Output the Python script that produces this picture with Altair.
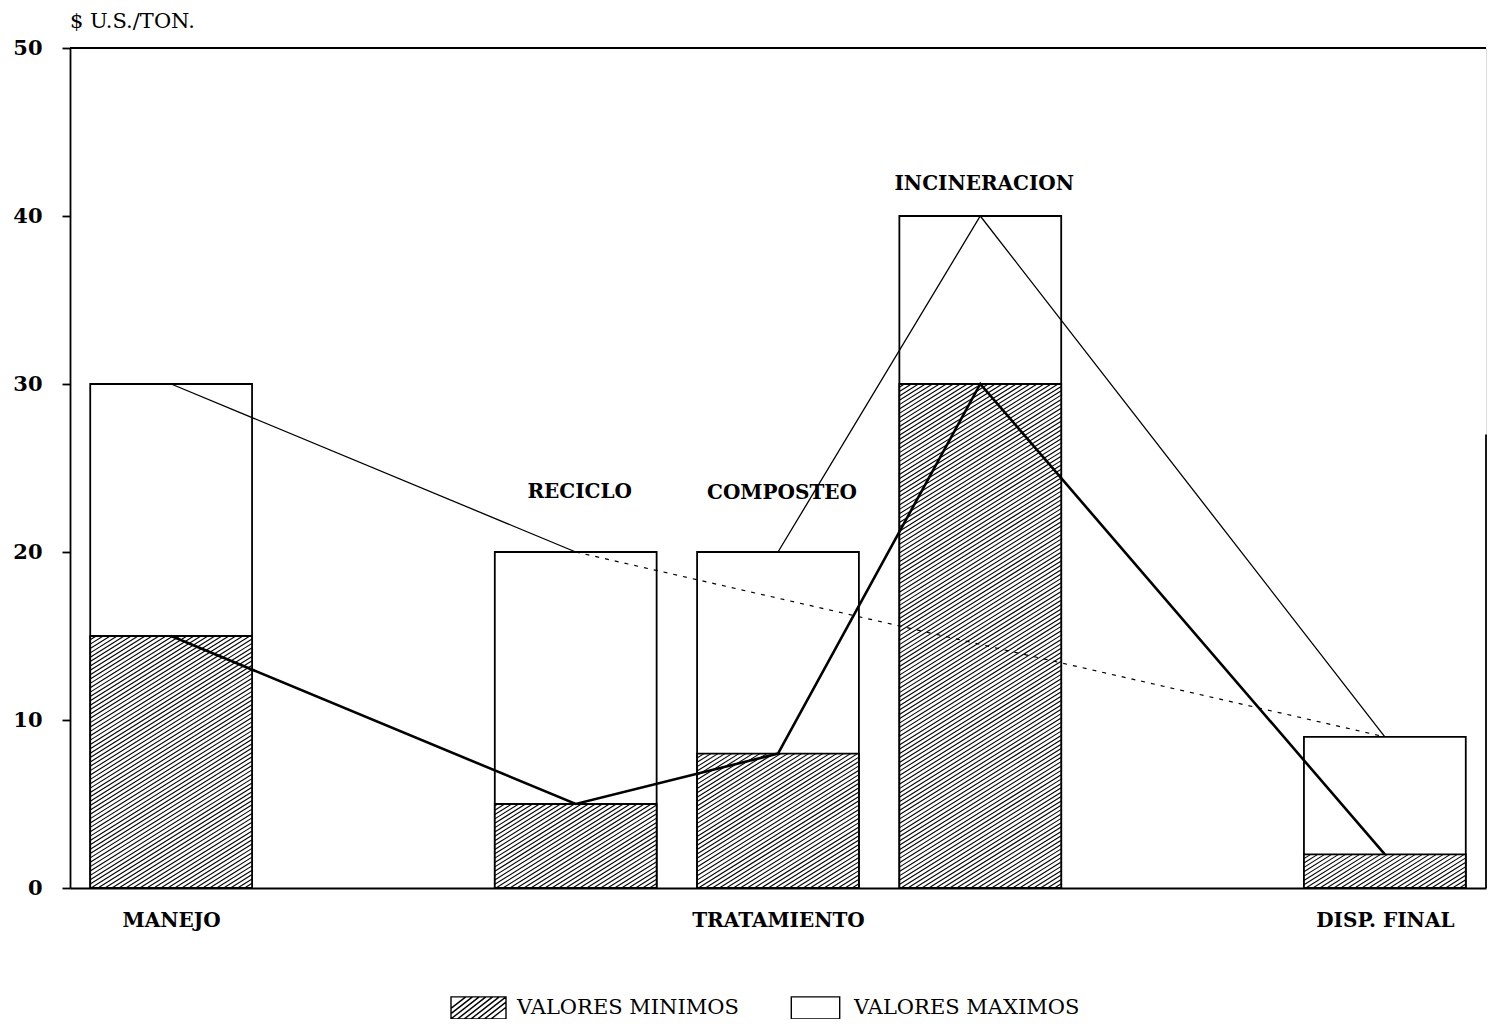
import altair as alt
import numpy as np
import pandas as pd

# ---------------- data ----------------
categories = ["MANEJO", "RECICLO", "COMPOSTEO", "INCINERACION", "DISP. FINAL"]
slots = [0, 2, 3, 4, 6]
min_values = [15, 5, 8, 30, 2]
max_values = [30, 20, 20, 40, 9]

group_labels = ["MANEJO", "TRATAMIENTO", "DISP. FINAL"]
group_slots = [0, 3, 6]

top_labels = ["RECICLO", "COMPOSTEO", "INCINERACION"]
top_label_slots = [2, 3, 4]
top_label_values = [23.6, 23.5, 41.9]

legend_entries = ["VALORES MINIMOS", "VALORES MAXIMOS"]
y_ticks = [0, 10, 20, 30, 40, 50]

# connections between the maximum values (indexes into the lists above)
max_path_a = [0, 1]        # solid
max_path_b = [1, 4]        # dotted
max_path_c = [2, 3, 4]     # solid

right_frame_top = 27

# ---------------- layout / style ----------------
W, H = 1416, 840
X_DOM = [-0.5, 6.5]
Y_DOM = [0, 50]
BAR_HALF = 0.4
FONT = "DejaVu Serif"
HATCH_ANGLE = 32
HATCH_SPACING = 3.7

px_x = W / (X_DOM[1] - X_DOM[0])
px_y = H / (Y_DOM[1] - Y_DOM[0])


def hatch_segments(x0, x1, y0, y1, angle_deg, spacing):
    t = np.tan(np.radians(angle_deg))
    dc = spacing / np.cos(np.radians(angle_deg))
    cmin = y0 - t * x1
    cmax = y1 - t * x0
    segs = []
    for k in np.arange(np.ceil(cmin / dc), np.floor(cmax / dc) + 1):
        c = k * dc
        xa = max(x0, (y0 - c) / t)
        xb = min(x1, (y1 - c) / t)
        if xb - xa > 0.3:
            segs.append((xa, t * xa + c, xb, t * xb + c))
    return segs


bars = pd.DataFrame({
    "cat": categories,
    "slot": slots,
    "vmin": min_values,
    "vmax": max_values,
})
bars["x0"] = bars["slot"] - BAR_HALF
bars["x1"] = bars["slot"] + BAR_HALF
bars["base"] = 0

# hatching of the minimum bars (in data units)
rows = []
for _, r in bars.iterrows():
    x0p = (r["x0"] - X_DOM[0]) * px_x
    x1p = (r["x1"] - X_DOM[0]) * px_x
    y0p = 0.0
    y1p = r["vmin"] * px_y
    for xa, ya, xb, yb in hatch_segments(x0p, x1p, y0p, y1p, HATCH_ANGLE, HATCH_SPACING):
        rows.append({
            "hx": xa / px_x + X_DOM[0], "hy": ya / px_y,
            "hx2": xb / px_x + X_DOM[0], "hy2": yb / px_y,
        })
hatch = pd.DataFrame(rows)

min_line = pd.DataFrame({"slot": slots, "v": min_values, "o": range(len(slots))})


def path_df(idx):
    return pd.DataFrame({"slot": [slots[i] for i in idx],
                         "v": [max_values[i] for i in idx],
                         "o": list(range(len(idx)))})


line_a = path_df(max_path_a)
line_b = path_df(max_path_b)
line_c = path_df(max_path_c)

top_df = pd.DataFrame({"t": top_labels, "slot": top_label_slots, "v": top_label_values})

legend_df = pd.DataFrame({"entry": legend_entries,
                          "slot": [slots[0], slots[0]],
                          "v": [min_values[0], max_values[0]]})

# legend swatch paths (unit space [-1,1])
sw_h = 0.4
rect_path = f"M-1,{-sw_h}L1,{-sw_h}L1,{sw_h}L-1,{sw_h}Z"
open_path = f"M-0.88,{-sw_h}L0.88,{-sw_h}L0.88,{sw_h}L-0.88,{sw_h}Z"
hp = []
for xa, ya, xb, yb in hatch_segments(-1, 1, -sw_h, sw_h, 38, 0.15):
    hp.append(f"M{xa:.3f},{-ya:.3f}L{xb:.3f},{-yb:.3f}")
hatch_path = rect_path + "".join(hp)

label_expr = "".join(
    f"datum.value == {s} ? '{l}' : " for s, l in zip(group_slots, group_labels)
) + "''"

xscale = alt.Scale(domain=X_DOM, nice=False, zero=False)
yscale = alt.Scale(domain=Y_DOM, nice=False, zero=False)

x_axis = alt.Axis(values=group_slots, labelExpr=label_expr, ticks=False, grid=False,
                  domainColor="black", domainWidth=1.8, labelFont=FONT,
                  labelFontWeight="bold", labelFontSize=20, labelColor="black",
                  labelPadding=22, title=None, labelFlush=False, labelOverlap=False)
y_axis = alt.Axis(values=y_ticks, tickSize=8, tickWidth=1.8, tickColor="black",
                  domainColor="black", domainWidth=1.8, grid=False,
                  labelFont=FONT, labelFontWeight="bold", labelFontSize=21,
                  labelColor="black", labelPadding=20, title=None)

max_rects = alt.Chart(bars).mark_rect(fill="white", stroke="black", strokeWidth=1.8).encode(
    x=alt.X("x0:Q", scale=xscale, axis=x_axis),
    x2="x1:Q",
    y=alt.Y("vmax:Q", scale=yscale, axis=y_axis),
    y2="base:Q",
)
min_rects = alt.Chart(bars).mark_rect(fill="white", stroke="black", strokeWidth=1.8).encode(
    x=alt.X("x0:Q", scale=xscale), x2="x1:Q",
    y=alt.Y("vmin:Q", scale=yscale), y2="base:Q",
)
hatch_rules = alt.Chart(hatch).mark_rule(color="black", strokeWidth=1.1).encode(
    x=alt.X("hx:Q", scale=xscale), x2="hx2:Q",
    y=alt.Y("hy:Q", scale=yscale), y2="hy2:Q",
)


def line_layer(df, width, dash=None):
    kw = dict(color="black", strokeWidth=width)
    if dash:
        kw["strokeDash"] = dash
    return alt.Chart(df).mark_line(**kw).encode(
        x=alt.X("slot:Q", scale=xscale),
        y=alt.Y("v:Q", scale=yscale),
        order="o:Q",
    )


lines = [
    line_layer(line_a, 1.3),
    line_layer(line_b, 1.2, [4, 6]),
    line_layer(line_c, 1.3),
    line_layer(min_line, 2.6),
]

top_text = alt.Chart(top_df).mark_text(font=FONT, fontWeight="bold", fontSize=20,
                                       color="black", dx=4).encode(
    x=alt.X("slot:Q", scale=xscale), y=alt.Y("v:Q", scale=yscale), text="t:N")

frame_df = pd.DataFrame({"a": [0]})
top_frame = alt.Chart(frame_df).mark_rule(color="black", strokeWidth=1.8).encode(
    x=alt.datum(X_DOM[0]), x2=alt.datum(X_DOM[1]), y=alt.datum(Y_DOM[1]))
right_frame = alt.Chart(frame_df).mark_rule(color="black", strokeWidth=1.8).encode(
    x=alt.datum(X_DOM[1]), y=alt.datum(Y_DOM[0]), y2=alt.datum(right_frame_top))

legend_pts = alt.Chart(legend_df).mark_point(opacity=0, filled=False, color="black").encode(
    x=alt.X("slot:Q", scale=xscale),
    y=alt.Y("v:Q", scale=yscale),
    shape=alt.Shape("entry:N",
                    scale=alt.Scale(domain=legend_entries, range=[hatch_path, open_path]),
                    legend=alt.Legend(title=None, orient="none", legendX=380, legendY=931,
                                      direction="horizontal", symbolSize=3025,
                                      symbolStrokeWidth=1.4, symbolOpacity=1,
                                      symbolStrokeColor="black",
                                      labelFont=FONT, labelFontSize=21,
                                      labelColor="black", labelOffset=10,
                                      columnPadding=48, labelLimit=0)),
)

chart = alt.layer(
    max_rects, min_rects, hatch_rules, *lines, top_text, top_frame, right_frame, legend_pts
).properties(
    width=W, height=H,
    title=alt.TitleParams("$ U.S./TON.", anchor="start", frame="group", font=FONT,
                          fontSize=21, fontWeight="normal", color="black", offset=5),
    autosize=alt.AutoSizeParams(type="none"),
    padding={"left": 62, "top": 40, "right": 2, "bottom": 131},
).configure_view(stroke=None).configure(background="white")

chart.save("out.html", embed_options={"renderer": "svg", "actions": False})
